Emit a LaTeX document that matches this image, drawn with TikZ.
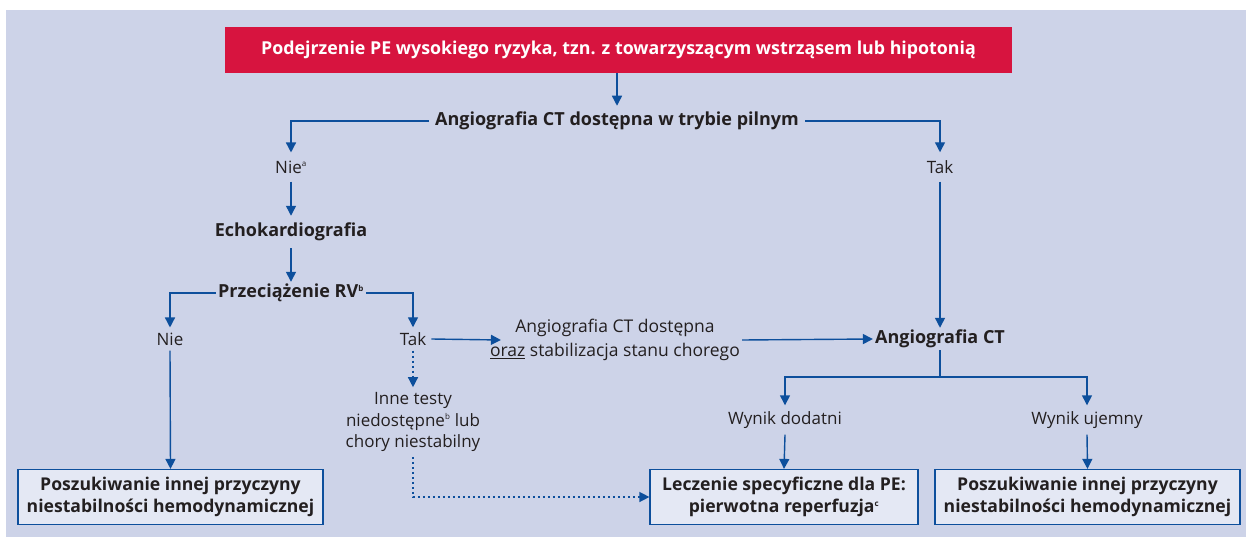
\documentclass[tikz,border=0pt]{standalone}
\usepackage{fontspec}
\setmainfont{Open Sans}
\usetikzlibrary{arrows.meta}
\definecolor{bgc}{HTML}{CDD3E8}
\definecolor{redc}{HTML}{D7143F}
\definecolor{bluec}{HTML}{0D4F9C}
\definecolor{boxfill}{HTML}{E4E8F4}
\definecolor{txt}{HTML}{231F20}
\tikzset{
  arr/.style={draw=bluec, line width=1.4pt, -{Triangle[width=10pt,length=10pt]}},
  ln/.style={draw=bluec, line width=1.4pt},
  dotarr/.style={draw=bluec, line width=1.4pt, dash pattern=on 2pt off 3pt, -{Triangle[width=10pt,length=10pt]}},
  lbl/.style={text=txt, font=\fontsize{17}{20}\selectfont, inner sep=5pt},
  bld/.style={text=txt, font=\fontsize{18}{21}\selectfont\bfseries, inner sep=6pt},
  result/.style={draw=bluec, line width=1.2pt, fill=boxfill, text=txt, font=\fontsize{17.6}{22}\selectfont\bfseries, align=center, minimum height=55pt, inner sep=2pt}
}
\begin{document}
\begin{tikzpicture}[x=1pt,y=-1pt]
\useasboundingbox (0,0) rectangle (1246,537);
\fill[white] (0,0) rectangle (1246,537);
\fill[bgc] (6,10) rectangle (1246,537);
% nodes
\node[fill=redc, text=white, font=\fontsize{17.8}{21}\selectfont\bfseries, minimum width=787pt, minimum height=46pt] (red) at (618.5,50) {Podejrzenie PE wysokiego ryzyka, tzn. z towarzyszącym wstrząsem lub hipotonią};
\node[bld, inner sep=6pt] (ct1) at (617,121) {Angiografia CT dostępna w trybie pilnym};
\node[lbl, inner sep=8pt] (nie1) at (291,167) {Nie\textsuperscript{\fontsize{8}{9}\selectfont a}};
\node[lbl, inner sep=8pt] (tak1) at (940,167) {Tak};
\node[bld, inner sep=7pt] (echo) at (291,232) {Echokardiografia};
\node[bld, inner sep=2pt] (prz) at (291,293) {Przeciążenie RV\textsuperscript{\fontsize{8}{9}\selectfont b}};
\node[lbl, inner sep=5pt] (nie2) at (170,339) {Nie};
\node[lbl, inner sep=5pt] (tak2) at (413,339) {Tak};
\node[lbl, align=center, font=\fontsize{17.5}{24}\selectfont, inner sep=0pt] (mid) at (615,340) {Angiografia CT dostępna\\\underline{oraz} stabilizacja stanu chorego};
\node[bld, inner sep=2pt] (ct2) at (940,339) {Angiografia CT};
\node[lbl, align=center, font=\fontsize{17}{21.5}\selectfont, inner sep=5pt] (inne) at (413,422) {Inne testy\\niedostępne\textsuperscript{\fontsize{8}{9}\selectfont b} lub\\chory niestabilny};
\node[lbl, inner sep=6pt] (wd) at (785,420) {Wynik dodatni};
\node[lbl, inner sep=6pt] (wu) at (1087,420) {Wynik ujemny};
\node[result, minimum width=305pt] (box1) at (170.5,497) {Poszukiwanie innej przyczyny\\niestabilności hemodynamicznej};
\node[result, minimum width=268pt] (box2) at (784,497) {Leczenie specyficzne dla PE:\\pierwotna reperfuzja\textsuperscript{\fontsize{8}{9}\selectfont c}};
\node[result, minimum width=305pt] (box3) at (1087.5,497) {Poszukiwanie innej przyczyny\\niestabilności hemodynamicznej};
\coordinate (sp) at (940,377);
% connectors
\draw[arr] (red.south -| ct1) -- (ct1.north);
\draw[arr] (ct1.west) -| (nie1.north);
\draw[arr] (ct1.east) -| (tak1.north);
\draw[arr] (nie1.south) -- (echo.north);
\draw[arr] (echo.south) -- (prz.north);
\draw[arr] (prz.west) -| (nie2.north);
\draw[arr] (prz.east) -| (tak2.north);
\draw[arr] (nie2.south) -- (box1.north);
\draw[arr] (tak2.east) -- ([xshift=11pt]mid.west);
\draw[arr] (mid.east) ++(2pt,0) -- (ct2.west);
\draw[arr] (tak1.south) -- (ct2.north);
\draw[ln] (ct2.south) -- (sp);
\draw[arr] (sp) -| (wd.north);
\draw[arr] (sp) -| (wu.north);
\draw[arr] (wd.south) -- (box2.north);
\draw[arr] (wu.south) -- (box3.north);
\draw[dotarr] (tak2.south) -- (inne.north);
\draw[dotarr] (inne.south) |- (box2.west);
\end{tikzpicture}
\end{document}
